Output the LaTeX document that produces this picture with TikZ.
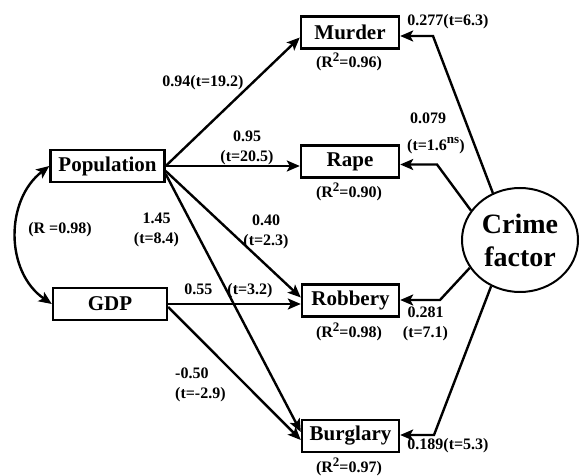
\documentclass[tikz,border=0pt]{standalone}
\usepackage{fontspec}
\setmainfont{Liberation Serif}
\usetikzlibrary{arrows.meta,shapes.geometric,calc}
% raised exponent, a little smaller than the surrounding text
\newcommand\upidx[1]{\raisebox{0.42em}{\fontsize{13}{13}\selectfont #1}}
\begin{document}
\begin{tikzpicture}[x=1pt,y=-1pt,
  var/.style={draw,line width=2.4pt,inner sep=0pt,minimum height=32pt,
    font=\fontsize{21}{21}\selectfont\bfseries},
  lab/.style={font=\fontsize{16}{20}\selectfont\bfseries,inner sep=0pt,align=center},
  arr/.style={line width=2.4pt,-{Stealth[length=13pt,width=11pt,inset=3pt]}},
]
\useasboundingbox (0,0) rectangle (582,476);

% observed variables
\node[var,minimum width=114pt] (pop) at (107.5,166) {Population};
\node[var,minimum width=114pt] (gdp) at (110,304) {GDP};
\node[var,minimum width=98pt] (mur) at (350,32.5) {Murder};
\node[var,minimum width=98pt] (rap) at (350,161.5) {Rape};
\node[var,minimum width=97pt] (rob) at (350.5,300.5) {Robbery};
\node[var,minimum width=97pt] (bur) at (350.5,436) {Burglary};

% latent factor
\node[draw,ellipse,line width=2pt,minimum width=116pt,minimum height=104pt,
  inner sep=0pt,align=center,font=\fontsize{28}{33}\selectfont\bfseries]
  (crime) at (520,240) {Crime\\factor};

% explained variance
\node[lab] (r2mur) at (349,62) {(R\upidx{2}=0.96)};
\node[lab] (r2rap) at (349,192) {(R\upidx{2}=0.90)};
\node[lab] (r2rob) at (349,332) {(R\upidx{2}=0.98)};
\node[lab] (r2bur) at (349,467) {(R\upidx{2}=0.97)};

% correlation between the predictors
\draw[line width=2.4pt,{Stealth[length=13pt,width=11pt,inset=3pt]}-{Stealth[length=13pt,width=11pt,inset=3pt]}]
  (pop.west) .. controls (5,200) and (5,272) .. (gdp.west);
\node[lab] (rlab) at (60,230) {(R =0.98)};

% paths from the predictors
\draw[arr] (pop.east) -- ([yshift=-5pt]mur.west);
\draw[arr] (pop.east) -- (pop.east -| rap.west);
\draw[arr] ([yshift=-5pt]pop.east) -- ([yshift=3pt]rob.west);
\draw[arr] ([yshift=-8pt]pop.east) -- ([yshift=4pt]bur.west);
\draw[arr] (gdp.east) -- (gdp.east -| rob.west);
\draw[arr] ([yshift=-3pt]gdp.east) -- ([yshift=-4pt]bur.west);

\node[lab] (l1) at (203,83) {0.94(t=19.2)};
\node[lab] (l2) at (247,147.5) {0.95\\(t=20.5)};
\node[lab] (l3) at (156.5,230) {1.45\\(t=8.4)};
\node[lab] (l4) at (266,231.5) {0.40\\(t=2.3)};
\node[lab] (l5) at (228.5,291) {0.55\hspace{15pt}(t=3.2)};
\node[lab,align=left,anchor=west] (l6) at (175,385) {-0.50\\(t=-2.9)};

% loadings of the crime factor
\coordinate (cm) at (433,36);
\coordinate (cr) at (437,164.5);
\coordinate (cb) at (440,300);
\coordinate (cg) at (434,435);
\draw[arr] (crime.120) -- (cm) -- (cm -| mur.east);
\draw[arr] (crime.149) -- (cr) -- (cr -| rap.east);
\draw[arr] (crime.209) -- (cb) -- (cb -| rob.east);
\draw[arr] (crime.238) -- (cg) -- (cg -| bur.east);

\node[lab] (k1) at (448,22) {0.277(t=6.3)};
\node[lab,align=left,anchor=west,font=\fontsize{16}{27}\selectfont\bfseries]
  (k2) at (407,133) {\hspace{3pt}0.079\\(t=1.6\upidx{ns})};
\node[lab] (k3) at (425.5,324) {0.281\\(t=7.1)};
\node[lab] (k4) at (448,446) {0.189(t=5.3)};
\end{tikzpicture}
\end{document}
